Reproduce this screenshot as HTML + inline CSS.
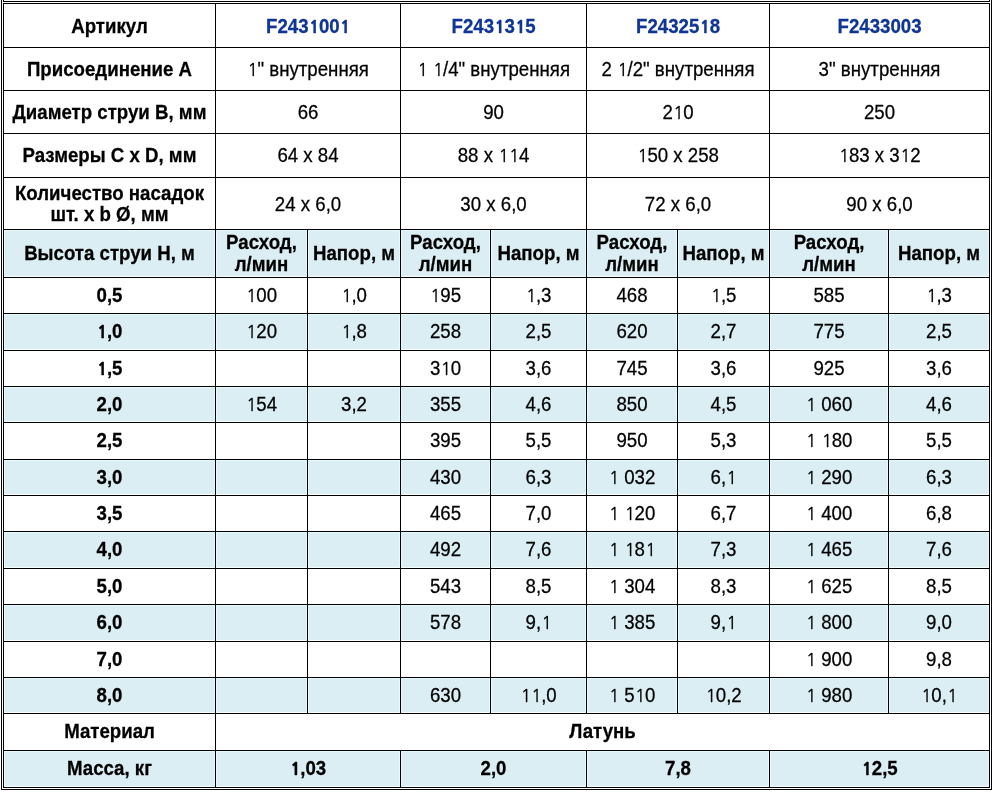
<!DOCTYPE html><html><head><meta charset="utf-8"><title>Таблица</title><style>
html,body{margin:0;padding:0;background:#fff;}
body{width:994px;height:793px;overflow:hidden;position:relative;}
.frame{position:absolute;left:1px;top:0;width:987px;height:785px;border:1px solid #000;border-top:0;padding:3px 1px 1px 1px;}
.prev{position:absolute;left:3px;top:0;width:985px;height:1px;border:1px solid #000;border-top:0;}
table{will-change:transform;border-collapse:separate;border-spacing:0;table-layout:fixed;width:987px;
 border-top:1px solid #000;border-left:1px solid #000;
 font-family:"Liberation Sans",Arial,sans-serif;font-size:18.6667px;color:#000;}
td{box-sizing:border-box;-webkit-text-stroke:0.25px currentColor;border-right:1px solid #000;border-bottom:1px solid #000;padding:0 1px;
 text-align:center;vertical-align:middle;line-height:21px;overflow:hidden;}
td.h{font-weight:bold;}
tr.b td{background:#daeef3;box-shadow:inset 1px 0 0 #e6f9fc,inset -1px 0 0 #e6f9fc,inset 0 1px 0 #e6f9fc,inset 0 -1px 0 #fbfefe;}
.art{color:#0f3595;font-weight:bold;}
.r1 td{padding-top:2px;}
.u td{padding-bottom:2px;}
td.dn{padding-top:2px;}
.up{position:relative;top:-1px;}
.o{font-family:NanumGothic,'Liberation Sans',sans-serif;font-size:17.4px;line-height:0;margin-left:0.41px;letter-spacing:-0.57px;}
td.h .o,td.art .o{font-weight:800;font-size:16.7px;margin-left:0.71px;letter-spacing:-0.45px;}
.t{display:inline-block;transform:scaleY(1.04);transform-origin:50% 17px;}
</style></head><body><div class="prev"></div><div class="frame"><table>
<colgroup><col style="width:212px"><col style="width:92px"><col style="width:93px"><col style="width:90px"><col style="width:96px"><col style="width:91px"><col style="width:92px"><col style="width:119px"><col style="width:101px"></colgroup>
<tr class="r1" style="height:44px"><td class="h" style="height:44px"><span class="t">Артикул</span></td><td class="art" colspan="2"><span class="t">F243<span class="o">1</span>00<span class="o">1</span></span></td><td class="art" colspan="2"><span class="t">F243<span class="o">1</span>3<span class="o">1</span>5</span></td><td class="art" colspan="2"><span class="t">F24325<span class="o">1</span>8</span></td><td class="art" colspan="2"><span class="t">F2433003</span></td></tr>
<tr style="height:43px"><td class="h" style="height:43px"><span class="t">Присоединение A</span></td><td colspan="2"><span class="t"><span class="o">1</span>" внутренняя</span></td><td colspan="2"><span class="t"><span class="o">1</span> <span class="o">1</span>/4" внутренняя</span></td><td colspan="2"><span class="t">2 <span class="o">1</span>/2" внутренняя</span></td><td colspan="2"><span class="t">3" внутренняя</span></td></tr>
<tr style="height:43px"><td class="h" style="height:43px"><span class="t">Диаметр струи B, мм</span></td><td colspan="2"><span class="t">66</span></td><td colspan="2"><span class="t">90</span></td><td colspan="2"><span class="t">2<span class="o">1</span>0</span></td><td colspan="2"><span class="t">250</span></td></tr>
<tr style="height:44px"><td class="h" style="height:44px"><span class="t">Размеры C x D, мм</span></td><td colspan="2"><span class="t">64 x 84</span></td><td colspan="2"><span class="t">88 x <span class="o">1</span><span class="o">1</span>4</span></td><td colspan="2"><span class="t"><span class="o">1</span>50 x 258</span></td><td colspan="2"><span class="t"><span class="o">1</span>83 x 3<span class="o">1</span>2</span></td></tr>
<tr style="height:52px"><td class="h" style="height:52px"><span class="t">Количество насадок</span><br><span class="t">шт. x b Ø, мм</span></td><td class="dn" colspan="2"><span class="t">24 x 6,0</span></td><td class="dn" colspan="2"><span class="t">30 x 6,0</span></td><td class="dn" colspan="2"><span class="t">72 x 6,0</span></td><td class="dn" colspan="2"><span class="t">90 x 6,0</span></td></tr>
<tr class="b" style="height:48px"><td class="h" style="height:48px"><span class="t">Высота струи H, м</span></td><td class="h"><span class="t up">Расход,</span><br><span class="t">л/мин</span></td><td class="h"><span class="t">Напор, м</span></td><td class="h"><span class="t up">Расход,</span><br><span class="t">л/мин</span></td><td class="h"><span class="t">Напор, м</span></td><td class="h"><span class="t up">Расход,</span><br><span class="t">л/мин</span></td><td class="h"><span class="t">Напор, м</span></td><td class="h"><span class="t up">Расход,</span><br><span class="t">л/мин</span></td><td class="h"><span class="t">Напор, м</span></td></tr>
<tr style="height:36px"><td class="h" style="height:36px"><span class="t">0,5</span></td><td><span class="t"><span class="o">1</span>00</span></td><td><span class="t"><span class="o">1</span>,0</span></td><td><span class="t"><span class="o">1</span>95</span></td><td><span class="t"><span class="o">1</span>,3</span></td><td><span class="t">468</span></td><td><span class="t"><span class="o">1</span>,5</span></td><td><span class="t">585</span></td><td><span class="t"><span class="o">1</span>,3</span></td></tr>
<tr class="b u" style="height:37px"><td class="h" style="height:37px"><span class="t"><span class="o">1</span>,0</span></td><td><span class="t"><span class="o">1</span>20</span></td><td><span class="t"><span class="o">1</span>,8</span></td><td><span class="t">258</span></td><td><span class="t">2,5</span></td><td><span class="t">620</span></td><td><span class="t">2,7</span></td><td><span class="t">775</span></td><td><span class="t">2,5</span></td></tr>
<tr style="height:36px"><td class="h" style="height:36px"><span class="t"><span class="o">1</span>,5</span></td><td></td><td></td><td><span class="t">3<span class="o">1</span>0</span></td><td><span class="t">3,6</span></td><td><span class="t">745</span></td><td><span class="t">3,6</span></td><td><span class="t">925</span></td><td><span class="t">3,6</span></td></tr>
<tr class="b" style="height:36px"><td class="h" style="height:36px"><span class="t">2,0</span></td><td><span class="t"><span class="o">1</span>54</span></td><td><span class="t">3,2</span></td><td><span class="t">355</span></td><td><span class="t">4,6</span></td><td><span class="t">850</span></td><td><span class="t">4,5</span></td><td><span class="t"><span class="o">1</span> 060</span></td><td><span class="t">4,6</span></td></tr>
<tr class="u" style="height:37px"><td class="h" style="height:37px"><span class="t">2,5</span></td><td></td><td></td><td><span class="t">395</span></td><td><span class="t">5,5</span></td><td><span class="t">950</span></td><td><span class="t">5,3</span></td><td><span class="t"><span class="o">1</span> <span class="o">1</span>80</span></td><td><span class="t">5,5</span></td></tr>
<tr class="b" style="height:36px"><td class="h" style="height:36px"><span class="t">3,0</span></td><td></td><td></td><td><span class="t">430</span></td><td><span class="t">6,3</span></td><td><span class="t"><span class="o">1</span> 032</span></td><td><span class="t">6,<span class="o">1</span></span></td><td><span class="t"><span class="o">1</span> 290</span></td><td><span class="t">6,3</span></td></tr>
<tr style="height:36px"><td class="h" style="height:36px"><span class="t">3,5</span></td><td></td><td></td><td><span class="t">465</span></td><td><span class="t">7,0</span></td><td><span class="t"><span class="o">1</span> <span class="o">1</span>20</span></td><td><span class="t">6,7</span></td><td><span class="t"><span class="o">1</span> 400</span></td><td><span class="t">6,8</span></td></tr>
<tr class="b u" style="height:37px"><td class="h" style="height:37px"><span class="t">4,0</span></td><td></td><td></td><td><span class="t">492</span></td><td><span class="t">7,6</span></td><td><span class="t"><span class="o">1</span> <span class="o">1</span>8<span class="o">1</span></span></td><td><span class="t">7,3</span></td><td><span class="t"><span class="o">1</span> 465</span></td><td><span class="t">7,6</span></td></tr>
<tr style="height:36px"><td class="h" style="height:36px"><span class="t">5,0</span></td><td></td><td></td><td><span class="t">543</span></td><td><span class="t">8,5</span></td><td><span class="t"><span class="o">1</span> 304</span></td><td><span class="t">8,3</span></td><td><span class="t"><span class="o">1</span> 625</span></td><td><span class="t">8,5</span></td></tr>
<tr class="b u" style="height:37px"><td class="h" style="height:37px"><span class="t">6,0</span></td><td></td><td></td><td><span class="t">578</span></td><td><span class="t">9,<span class="o">1</span></span></td><td><span class="t"><span class="o">1</span> 385</span></td><td><span class="t">9,<span class="o">1</span></span></td><td><span class="t"><span class="o">1</span> 800</span></td><td><span class="t">9,0</span></td></tr>
<tr style="height:36px"><td class="h" style="height:36px"><span class="t">7,0</span></td><td></td><td></td><td></td><td></td><td></td><td></td><td><span class="t"><span class="o">1</span> 900</span></td><td><span class="t">9,8</span></td></tr>
<tr class="b" style="height:36px"><td class="h" style="height:36px"><span class="t">8,0</span></td><td></td><td></td><td><span class="t">630</span></td><td><span class="t"><span class="o">1</span><span class="o">1</span>,0</span></td><td><span class="t"><span class="o">1</span> 5<span class="o">1</span>0</span></td><td><span class="t"><span class="o">1</span>0,2</span></td><td><span class="t"><span class="o">1</span> 980</span></td><td><span class="t"><span class="o">1</span>0,<span class="o">1</span></span></td></tr>
<tr class="u" style="height:37px"><td class="h" style="height:37px"><span class="t">Материал</span></td><td class="h" colspan="8"><span class="t">Латунь</span></td></tr>
<tr class="b u" style="height:37px"><td class="h" style="height:37px"><span class="t">Масса, кг</span></td><td class="h" colspan="2"><span class="t"><span class="o">1</span>,03</span></td><td class="h" colspan="2"><span class="t">2,0</span></td><td class="h" colspan="2"><span class="t">7,8</span></td><td class="h" colspan="2"><span class="t"><span class="o">1</span>2,5</span></td></tr>
</table></div></body></html>
